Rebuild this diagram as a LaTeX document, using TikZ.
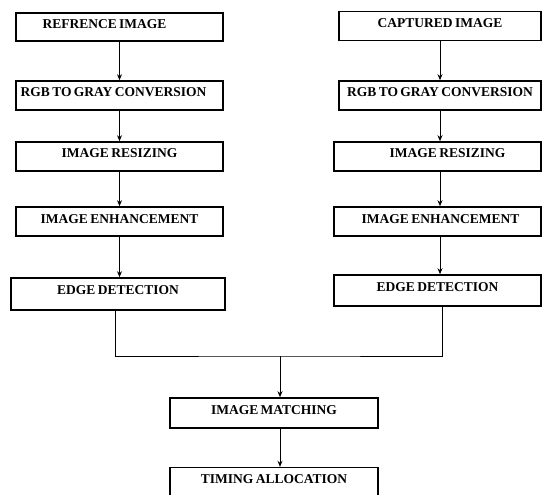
\documentclass[tikz,border=0pt]{standalone}
\usepackage{fontspec}
\setmainfont{Liberation Serif}[WordSpace=0.7]
\usetikzlibrary{arrows.meta, positioning}

\begin{document}
\begin{tikzpicture}[
    x=1bp, y=-1bp,
    every node/.style={font=\fontsize{13.5bp}{15bp}\selectfont\bfseries},
    box/.style={rectangle, draw, line width=1.6bp, minimum width=207bp, inner xsep=0pt, inner ysep=0pt, text height=16bp, text depth=13bp},
    arrow/.style={-{Stealth[length=6bp, width=5bp]}, line width=0.9bp},
    line/.style={line width=0.9bp}
]
\useasboundingbox (0,0) rectangle (542,495);

% ============ REFERENCE SIDE (LEFT) ============
\node[box, text depth=12bp] (ref_in) at (119.5, 27) {REFRENCE IMAGE\hspace*{30bp}};
\node[box] (ref_gray) at (119.5, 95.5) {RGB TO GRAY CONVERSION\hspace*{12bp}};
\node[box] (ref_resize) at (119.5, 156.5) {IMAGE RESIZING};
\node[box] (ref_enh) at (119.5, 221.5) {IMAGE ENHANCEMENT};
\node[box, minimum width=214bp, text depth=16bp] (ref_edge) at (118, 294) {EDGE DETECTION};

% Arrows
\draw[arrow] (ref_in.south) -- (ref_in.south |- ref_gray.north);
\draw[arrow] (ref_gray.south) -- (ref_gray.south |- ref_resize.north);
\draw[arrow] (ref_resize.south) -- (ref_resize.south |- ref_enh.north);
\draw[arrow] (ref_enh.south) -- (ref_enh.south |- ref_edge.north);

% ============ CAPTURED SIDE (RIGHT) ============
\node[box, minimum width=202bp] (cap_in) at (440, 26) {CAPTURED IMAGE};
\node[box, minimum width=202bp] (cap_gray) at (440, 95.5) {RGB TO GRAY CONVERSION};
\node[box] (cap_resize) at (437.5, 156.5) {\hspace*{20bp}IMAGE RESIZING};
\node[box] (cap_enh) at (437.5, 221.5) {\hspace*{6bp}IMAGE ENHANCEMENT};
\node[box, text depth=15bp] (cap_edge) at (437.5, 290.5) {EDGE DETECTION};

% Arrows
\draw[arrow] (cap_in.south) -- (cap_in.south |- cap_gray.north);
\draw[arrow] (cap_gray.south) -- (cap_gray.south |- cap_resize.north);
\draw[arrow] (cap_resize.south -| cap_in) -- (cap_in |- cap_enh.north);
\draw[arrow] (cap_enh.south -| cap_in) -- (cap_in |- cap_edge.north);

% ============ MATCHING ============
\coordinate (merge) at (280, 356);
\node[box, minimum width=208bp, text depth=14bp] (match) at (274, 413) {IMAGE MATCHING};
\node[box, minimum width=208bp, below=38bp of match] (timing) {TIMING ALLOCATION};

% Joining lines
\draw[line] ([xshift=-3bp]ref_edge.south) |- (merge) -| ([xshift=4.5bp]cap_edge.south);
\draw[arrow] (merge) -- (merge |- match.north);
\draw[arrow] (match.south -| merge) -- (merge |- timing.north);

\end{tikzpicture}
\end{document}
